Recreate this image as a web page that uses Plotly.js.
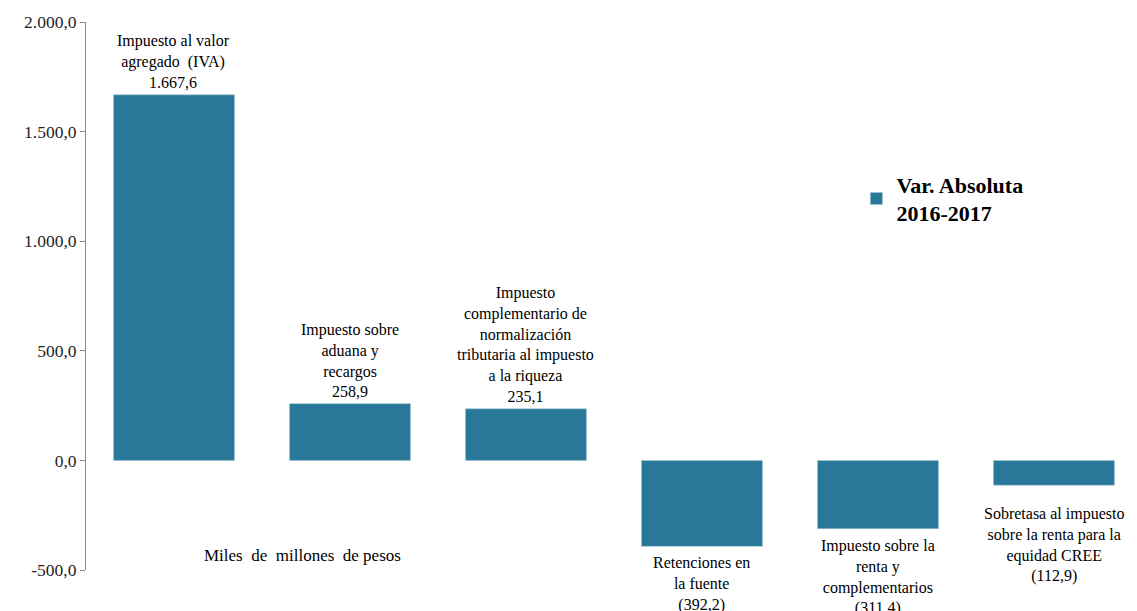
<!DOCTYPE html>
<html><head><meta charset="utf-8">
<script src="https://cdn.plot.ly/plotly-3.0.1.min.js"></script>
<style>html,body{margin:0;padding:0;background:#fff}#c{width:1137px;height:611px}</style>
</head><body><div id="c"></div>
<script>
const categories = [
  "Impuesto al valor<br>agregado  (IVA)",
  "Impuesto sobre<br>aduana y<br>recargos",
  "Impuesto<br>complementario de<br>normalización<br>tributaria al impuesto<br>a la riqueza",
  "Retenciones en<br>la fuente",
  "Impuesto sobre la<br>renta y<br>complementarios",
  "Sobretasa al impuesto<br>sobre la renta para la<br>equidad CREE"
];
const values = [1667.6, 258.9, 235.1, -392.2, -311.4, -112.9];
const seriesName = "Var. Absoluta<br>2016-2017";
const unitNote = "Miles&nbsp; de&nbsp; millones&nbsp; de pesos";
const yTicks = [-500, 0, 500, 1000, 1500, 2000];

function fmt(v, paren){
  const a = Math.abs(v).toFixed(1).split('.');
  const i = a[0].replace(/\B(?=(\d{3})+(?!\d))/g, '.');
  const s = i + ',' + a[1];
  if (v < 0) return paren ? '(' + s + ')' : '-' + s;
  return s;
}

const xs = categories.map((c, i) => i);
const color = '#2a7899';
const font = "Liberation Serif, Times New Roman, serif";

const annotations = categories.map((c, i) => {
  const v = values[i];
  const pos = v >= 0;
  let shift = pos ? 2 : -6;
  if (i === 5) shift = -18;
  return {
    x: i, y: v, xref: 'x', yref: 'y',
    text: c + '<br>' + fmt(v, true),
    showarrow: false,
    yanchor: pos ? 'bottom' : 'top',
    yshift: shift,
    align: 'center',
    font: {family: font, size: 16, color: '#000'}
  };
});
annotations.push({
  xref: 'paper', yref: 'y', x: 0.206, y: -435, text: unitNote,
  showarrow: false, xanchor: 'center', yanchor: 'middle',
  font: {family: font, size: 17, color: '#000'}
});

Plotly.newPlot('c', [{
  type: 'bar', x: xs, y: values, name: seriesName,
  marker: {color: color, line: {color: '#9cc3d4', width: 0.6}},
  width: 0.6875, showlegend: true, hoverinfo: 'skip'
}], {
  width: 1137, height: 611,
  margin: {l: 86, r: 0, t: 22, b: 41},
  paper_bgcolor: '#fff', plot_bgcolor: '#fff',
  font: {family: font},
  xaxis: {range: [-0.5, 5.472], showticklabels: false, ticks: '', showgrid: false,
          zeroline: false, showline: false, fixedrange: true},
  yaxis: {range: [-500, 2000], tickvals: yTicks, ticktext: yTicks.map(v => fmt(v, false)),
          showgrid: false, zeroline: false, showline: true, linecolor: '#888', linewidth: 1,
          ticks: 'outside', ticklen: 5, tickcolor: '#888',
          tickfont: {family: font, size: 17.5, color: '#222'}},
  showlegend: true,
  legend: {x: 0.733, y: 0.742, xanchor: 'left', yanchor: 'top', bgcolor: 'rgba(0,0,0,0)',
           font: {family: font, size: 22, color: '#000', weight: 'bold'},
           itemwidth: 30, tracegroupgap: 0},
  annotations: annotations,
  bargap: 0
}, {displayModeBar: false, staticPlot: true});
</script></body></html>
